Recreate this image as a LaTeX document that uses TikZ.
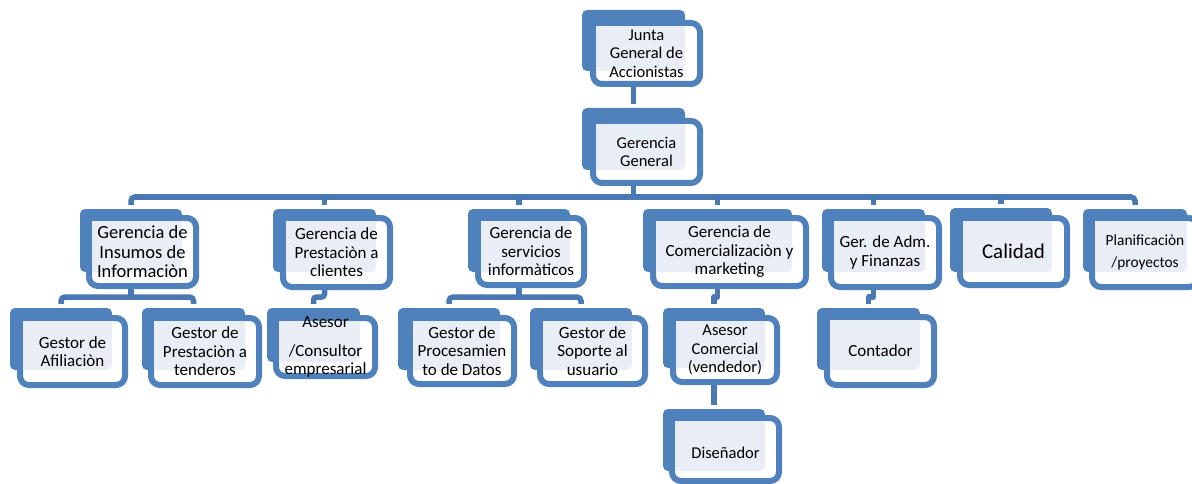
\documentclass[tikz,border=0pt]{standalone}
\usepackage{fontspec}
\setmainfont{Carlito}
\usetikzlibrary{calc,fit}
\pgfdeclarelayer{bg}
\pgfsetlayers{bg,main}
\definecolor{obl}{RGB}{79,129,189}
\definecolor{oln}{RGB}{74,120,178}
\definecolor{olt}{RGB}{233,237,245}
\tikzset{
  backshape/.style={fill=obl, rounded corners=5pt},
  frontshape/.style={draw=obl, line width=6pt, fill=white, rounded corners=9pt},
  lightarea/.style={fill=olt},
  conn/.style={draw=oln, line width=5.5pt, rounded corners=4pt},
  boxfit/.style={inner sep=0pt, draw=none},
  tsixteen/.style={font=\fontsize{16.5}{18.3}\selectfont},
  tseventeen/.style={font=\fontsize{17}{18.5}\selectfont},
  tbig/.style={font=\fontsize{18.5}{19.5}\selectfont},
  tcal/.style={font=\fontsize{21}{22}\selectfont},
  tplan/.style={font=\fontsize{15.4}{22}\selectfont},
}
\newcommand\orgbox[7]{%
  \coordinate (#1-btl) at #2; \coordinate (#1-bbr) at #3;
  \coordinate (#1-ftl) at #4; \coordinate (#1-fbr) at #5;
  \fill[backshape] (#1-btl) rectangle (#1-bbr);
  \draw[frontshape] ([shift={(3,3)}]#1-ftl) rectangle ([shift={(-3,-3)}]#1-fbr);
  \begin{scope}
    \clip[rounded corners=5pt] (#1-btl) rectangle (#1-bbr);
    \fill[lightarea] ([shift={(6,6)}]#1-ftl) rectangle ([shift={(-6,-6)}]#1-fbr);
  \end{scope}
  \node[boxfit, fit=(#1-btl)(#1-bbr)] (#1-back) {};
  \node[boxfit, fit=(#1-ftl)(#1-fbr)] (#1-front) {};
  \node[align=center, inner sep=0pt, #7] (#1) at ($(#1-ftl)!0.5!(#1-fbr)$) {#6};
}
\begin{document}
\begin{tikzpicture}[x=1pt, y=-1pt]
\useasboundingbox (0,0) rectangle (1192,484);
% top
\orgbox{junta}{(582,10)}{(685,71)}{(590,20)}{(703,87)}{Junta\\General de\\Accionistas}{tsixteen}
\orgbox{gg}{(582,108)}{(685,170)}{(590,118)}{(703,186)}{Gerencia\\General}{tsixteen}
% level 1
\orgbox{ins}{(80,209)}{(182,272)}{(86,215)}{(199,289)}{Gerencia de\\Insumos de\\Informaciòn}{tbig}
\orgbox{pres}{(273,209)}{(376,272)}{(280,215)}{(393,290)}{Gerencia de\\Prestaciòn a\\clientes}{tseventeen}
\orgbox{serv}{(468,209)}{(570,272)}{(475,215)}{(587,288)}{Gerencia de\\servicios\\informàticos}{tseventeen}
\orgbox{com}{(643,209)}{(792,272)}{(650,215)}{(809,289)}{Gerencia de\\Comercializaciòn y\\marketing}{tseventeen}
\orgbox{adm}{(822,209)}{(925,272)}{(828,215)}{(942,290)}{Ger. de Adm.\\y Finanzas}{tseventeen}
\orgbox{cal}{(950,208)}{(1052,272)}{(957,215)}{(1070,288)}{Calidad}{tcal}
\orgbox{plan}{(1083,209)}{(1187,272)}{(1089,215)}{(1201,290)}{Planificaciòn\\/proyectos}{tplan}
% level 2
\orgbox{afi}{(10,308)}{(112,370)}{(17,315)}{(128,388)}{Gestor de\\Afiliaciòn}{tseventeen}
\orgbox{ten}{(142,308)}{(245,370)}{(148,315)}{(262,388)}{Gestor de\\Prestaciòn a\\tenderos}{tseventeen}
\orgbox{cons}{(267,308)}{(360,362)}{(273,315)}{(378,379)}{Asesor\\[10pt]/Consultor\\empresarial}{tseventeen}
\orgbox{proc}{(398,308)}{(500,370)}{(407,315)}{(517,387)}{Gestor de\\Procesamien\\to de Datos}{tseventeen}
\orgbox{sop}{(530,308)}{(632,370)}{(537,315)}{(648,387)}{Gestor de\\Soporte al\\usuario}{tseventeen}
\orgbox{ase}{(663,308)}{(765,368)}{(670,315)}{(780,385)}{Asesor\\Comercial\\(vendedor)}{tsixteen}
\orgbox{cont}{(817,308)}{(920,370)}{(824,314)}{(937,388)}{Contador}{tseventeen}
\orgbox{dis}{(663,409)}{(765,471)}{(669,415)}{(782,484)}{Diseñador}{tsixteen, yshift=-3pt}
% connectors
\begin{pgfonlayer}{bg}
\coordinate (busA) at (0,197);
\coordinate (busB) at (0,297);
\draw[conn] (junta-back.center |- junta-front.south) -- ([yshift=4pt]gg-back.north);
\draw[conn] (gg-back.center |- gg-front.south) -- (gg-back.center |- busA);
\draw[conn] ([yshift=4pt]ins-back.north) -- (ins-back.north |- busA) -- (plan-back.north |- busA) -- ([yshift=4pt]plan-back.north);
\foreach \n in {pres,serv,com,adm,cal}
  \draw[conn] (\n-back.north |- busA) -- ([yshift=4pt]\n-back.north);
\draw[conn] (ins-back.center |- ins-front.south) -- (ins-back.center |- busB);
\draw[conn] ([yshift=4pt]afi-back.north) -- (afi-back.north |- busB) -- (ten-back.north |- busB) -- ([yshift=4pt]ten-back.north);
\draw[conn, rounded corners=3pt] (pres-back.center |- pres-front.south) -- (pres-back.center |- busB) -- (cons-back.north |- busB) -- ([yshift=4pt]cons-back.north);
\draw[conn] (serv-back.center |- serv-front.south) -- (serv-back.center |- busB);
\draw[conn] ([yshift=4pt]proc-back.north) -- (proc-back.north |- busB) -- (sop-back.north |- busB) -- ([yshift=4pt]sop-back.north);
\draw[conn, sharp corners, line join=round] (com-back.center |- com-front.south) -- (com-back.center |- busB) -- (ase-back.north |- busB) -- ([yshift=4pt]ase-back.north);
\draw[conn, sharp corners, line join=round] (adm-back.center |- adm-front.south) -- (adm-back.center |- busB) -- (cont-back.north |- busB) -- ([yshift=4pt]cont-back.north);
\draw[conn] (ase-back.center |- ase-front.south) -- ([yshift=4pt]dis-back.north);
\end{pgfonlayer}
\end{tikzpicture}
\end{document}
